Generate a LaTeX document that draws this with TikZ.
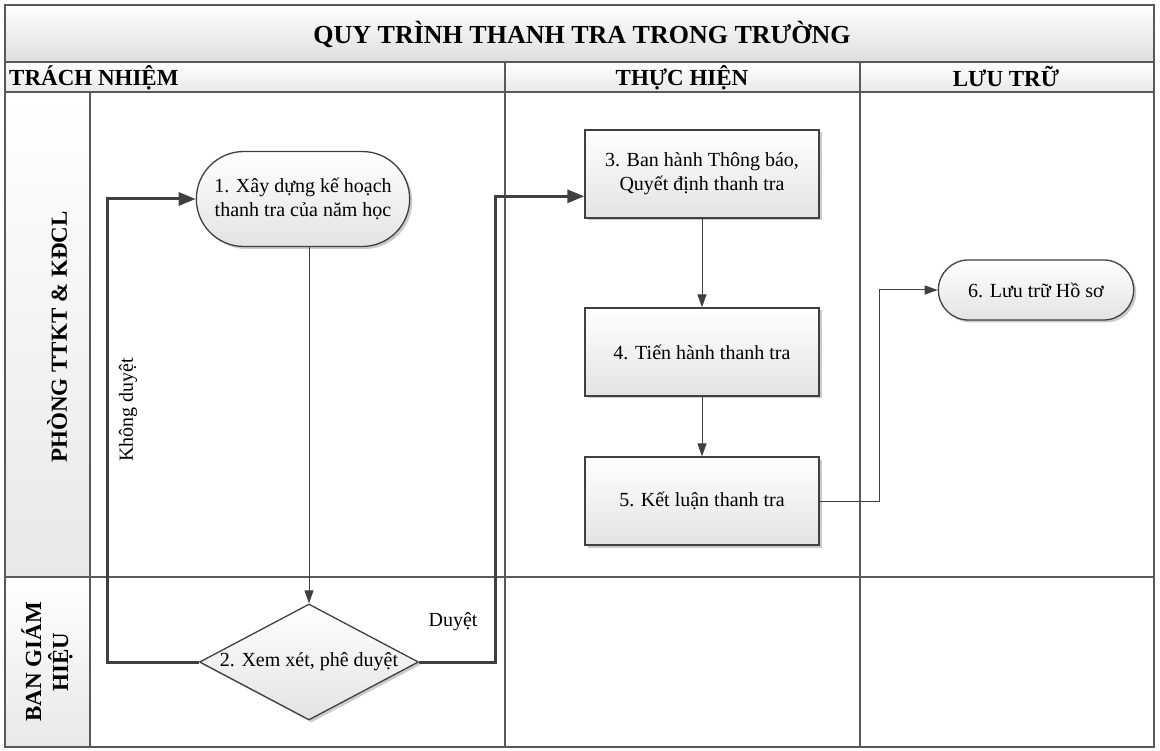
\documentclass[tikz,border=0pt]{standalone}
\usepackage{fontspec}
\setmainfont{Liberation Serif}
\usetikzlibrary{arrows.meta,shapes.geometric,shapes.misc,shadows,calc}
\tikzset{
  frame/.style={draw=black!65, line width=1.1pt},
  shapebase/.style={draw=black!75, line width=1.3pt, top color=white, bottom color=black!11,
    drop shadow={shadow xshift=2.5pt, shadow yshift=-2.5pt, fill=black!45, opacity=.45},
    align=center, font=\fontsize{20}{24}\selectfont},
  procbox/.style={shapebase, rectangle, minimum width=234, minimum height=88},
  termbox/.style={shapebase, rounded rectangle},
  decbox/.style={shapebase, diamond, minimum width=219, minimum height=116, inner sep=0pt},
  thinarr/.style={draw=black!75, line width=1pt, -{Triangle[length=13pt,width=9pt]}},
  thickarr/.style={draw=black!75, line width=3pt, -{Triangle[length=17pt,width=13pt]}},
  lbl/.style={font=\fontsize{20}{24}\selectfont},
  hdr/.style={font=\bfseries\fontsize{23}{27}\selectfont},
}
\begin{document}
\begin{tikzpicture}[x=1pt,y=-1pt]
  \useasboundingbox[fill=white] (0,0) rectangle (1160,751);
  % nen cac o
  \shade[top color=white, bottom color=black!13] (5,5) rectangle (1154,62);
  \shade[top color=white, bottom color=black!9] (5,62) rectangle (1154,92);
  \shade[top color=white, bottom color=black!9] (5,92) rectangle (90,577);
  \shade[top color=white, bottom color=black!9] (5,577) rectangle (90,747);
  % khung
  \draw[frame] (5,5) rectangle (1154,747);
  \draw[frame] (5,62) -- (1154,62);
  \draw[frame] (5,92) -- (1154,92);
  \draw[frame] (5,577) -- (1154,577);
  \draw[frame] (90,92) -- (90,747);
  \draw[frame] (505,62) -- (505,747);
  \draw[frame] (860,62) -- (860,747);
  % tieu de
  \node[font=\bfseries\fontsize{26}{31}\selectfont] (title) at (582,34) {QUY TRÌNH THANH TRA TRONG TRƯỜNG};
  \node[hdr, anchor=west, inner sep=0pt] (h1) at (9,78) {TRÁCH NHIỆM};
  \node[hdr] (h2) at (682,78) {THỰC HIỆN};
  \node[hdr] (h3) at (1006,76) {LƯU TRỮ};
  \node[hdr, rotate=90] (lane1) at (57,337) {PHÒNG TTKT \& KĐCL};
  \node[hdr, rotate=90, align=center] (lane2) at (47,662) {BAN GIÁM\\HIỆU};
  % cac buoc
  \node[termbox, minimum width=220, minimum height=95] (n1) at (303,199) {1. Xây dựng kế hoạch\\thanh tra của năm học};
  \node[decbox] (d2) at (309,662) {};
  \node[lbl] (d2t) at (d2.center) {2. Xem xét, phê duyệt};
  \node[procbox] (n3) at (702,174) {3. Ban hành Thông báo,\\Quyết định thanh tra};
  \node[procbox] (n4) at (702,352) {4. Tiến hành thanh tra};
  \node[procbox] (n5) at (702,501) {5. Kết luận thanh tra};
  \node[termbox, minimum width=202, minimum height=60] (n6) at (1036,290) {6. Lưu trữ Hồ sơ};
  % mui ten
  \draw[thinarr] (n1.south -| d2.north) -- (d2.north);
  \draw[thickarr] (d2.west) -- ++(-91,0) |- (n1.west);
  \node[lbl, rotate=90] (kd) at (128,410) {Không duyệt};
  \draw[thickarr] (d2.east) -- ++(76,0) |- ($(n3.west)!0.5!(n3.south west)$);
  \node[lbl] (dy) at (453,622) {Duyệt};
  \draw[thinarr] (n3) -- (n4);
  \draw[thinarr] (n4) -- (n5);
  \draw[thinarr] (n5.east) -- ++(60,0) |- (n6.west);
\end{tikzpicture}
\end{document}
